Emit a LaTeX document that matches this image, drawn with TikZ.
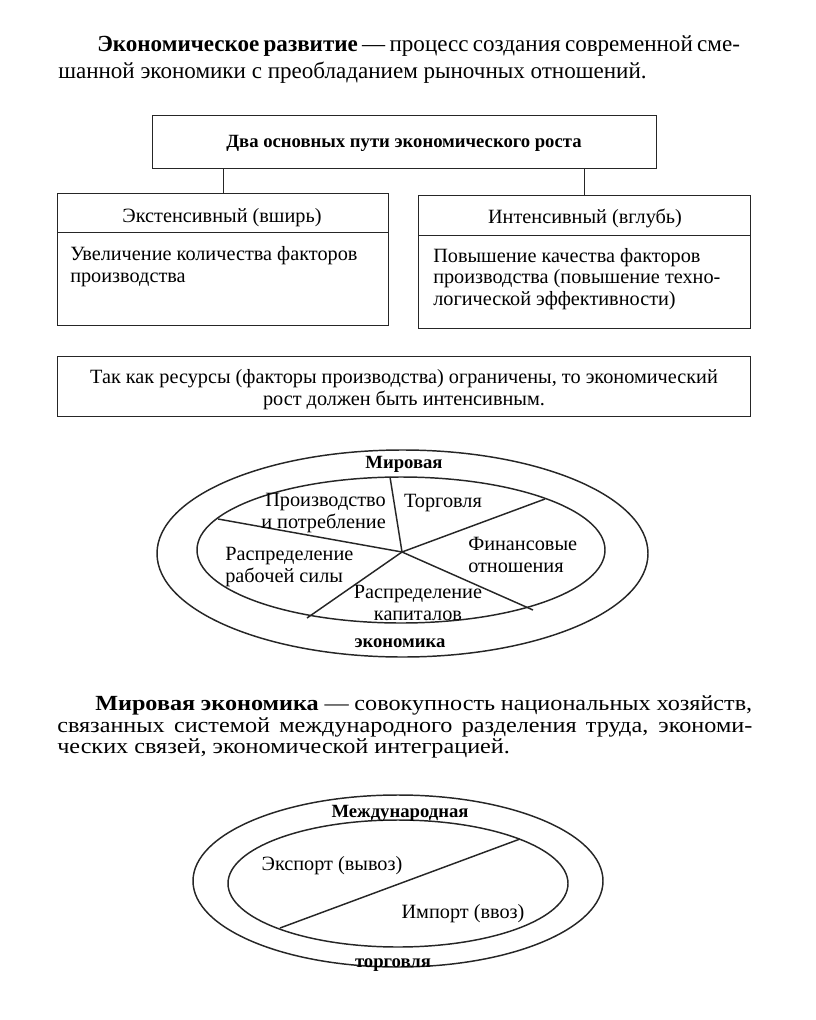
\documentclass[tikz,border=0pt]{standalone}
\usepackage{fontspec}
\setmainfont{Liberation Serif}
\newfontfamily\wideserif[FakeStretch=1.12]{Liberation Serif}
\usetikzlibrary{shapes.geometric}
\newcommand{\fsP}{\fontsize{17.3}{20}\selectfont}
\newcommand{\fsQ}{\wideserif\fontsize{16.2}{19}\selectfont}
\newcommand{\fsB}{\fontsize{15.2}{18}\selectfont}
\newcommand{\fsT}{\fontsize{14}{17}\selectfont\bfseries}
\tikzset{
  ln/.style={line width=1.1pt, draw=black!85},
  boxn/.style={ln, rectangle, inner sep=0pt, anchor=north west},
  ovaln/.style={ln, ellipse, inner sep=0pt},
  txt/.style={inner sep=0pt, anchor=base, font=\fsB},
  txl/.style={inner sep=0pt, anchor=base west, font=\fsB},
  ptx/.style={inner sep=0pt, anchor=base west, font=\fsP},
  qtx/.style={inner sep=0pt, anchor=base west, font=\fsQ},
  bld/.style={inner sep=0pt, anchor=base, font=\fsT},
}
\begin{document}
\begin{tikzpicture}[x=0.75pt,y=-0.75pt]
\useasboundingbox (0,0) rectangle (816,1020);
% top paragraph
\node[ptx] (p1) at (97,52) {\makebox[482pt][s]{\textbf{Экономическое развитие} — процесс создания современной сме-}};
\node[ptx] (p2) at (58,79) {шанной экономики с преобладанием рыночных отношений.};
% boxes
\node[boxn, minimum width=378pt, minimum height=39.75pt] (title) at (152,115) {};
\node[bld] (titlet) at (404,148) {Два основных пути экономического роста};
\node[boxn, minimum width=248.25pt, minimum height=29.25pt] (lh) at (57,193) {};
\node[boxn, minimum width=248.25pt, minimum height=69.75pt] (lb) at (57,232) {};
\node[boxn, minimum width=249pt, minimum height=30pt] (rh) at (418,195) {};
\node[boxn, minimum width=249pt, minimum height=69.75pt] (rb) at (418,235) {};
\draw[ln] (lh.north |- title.south) -- (lh.north);
\draw[ln] (rh.north |- title.south) -- (rh.north);
\node[txt] (lht) at (222,222) {Экстенсивный (вширь)};
\node[txt] (rht) at (585,223) {Интенсивный (вглубь)};
\node[txl] (lb1) at (70,260) {Увеличение количества факторов};
\node[txl] (lb2) at (70,282) {производства};
\node[txl] (rb1) at (433,262) {Повышение качества факторов};
\node[txl] (rb2) at (433,283) {производства (повышение техно-};
\node[txl] (rb3) at (433,305) {логической эффективности)};
% conclusion box
\node[boxn, minimum width=519.75pt, minimum height=45pt] (concl) at (57,356) {};
\node[txt] (c1) at (404,383) {Так как ресурсы (факторы производства) ограничены, то экономический};
\node[txt] (c2) at (404,405) {рост должен быть интенсивным.};
% world economy ellipse
\node[ovaln, minimum width=368.25pt, minimum height=155.25pt] (o1) at (402.5,553.5) {};
\node[ovaln, minimum width=306pt, minimum height=109.5pt] (i1) at (401,550) {};
\coordinate (pc) at (402,552);
\coordinate (s1) at (390,477);
\coordinate (s2) at (545,499);
\coordinate (s3) at (218,519);
\coordinate (s4) at (307,618);
\coordinate (s5) at (533,610);
\foreach \s in {s1,s2,s3,s4,s5} \draw[ln] (pc) -- (\s);
\node[bld] (mw) at (404,468) {Мировая};
\node[bld] (ek) at (400,647) {экономика};
\node[txt, anchor=base east] (pp1) at (386,506) {Производство};
\node[txt, anchor=base east] (pp2) at (386,528) {и потребление};
\node[txt] (tg) at (443,507) {Торговля};
\node[txl] (rs1) at (225,560) {Распределение};
\node[txl] (rs2) at (225,582) {рабочей силы};
\node[txl] (fo1) at (468,550) {Финансовые};
\node[txl] (fo2) at (468,572) {отношения};
\node[txt] (rk1) at (418,598) {Распределение};
\node[txt] (rk2) at (418,620) {капиталов};
% bottom paragraph
\node[qtx] (q1) at (95,710) {\makebox[492.75pt][s]{\textbf{Мировая экономика} — совокупность национальных хозяйств,}};
\node[qtx] (q2) at (57,732) {\makebox[521.25pt][s]{связанных системой международного разделения труда, экономи-}};
\node[qtx] (q3) at (57,753) {ческих связей, экономической интеграцией.};
% trade ellipse
\node[ovaln, minimum width=307.5pt, minimum height=129pt] (o2) at (398,881) {};
\node[ovaln, minimum width=255pt, minimum height=95.25pt] (i2) at (398,883.5) {};
\coordinate (d1) at (280,928);
\coordinate (d2) at (520,839);
\draw[ln] (d1) -- (d2);
\node[bld] (md) at (400,817) {Международная};
\node[bld] (tr) at (393,967) {торговля};
\node[txt] (ex) at (332,870) {Экспорт (вывоз)};
\node[txt] (im) at (463,918) {Импорт (ввоз)};
\end{tikzpicture}
\end{document}
